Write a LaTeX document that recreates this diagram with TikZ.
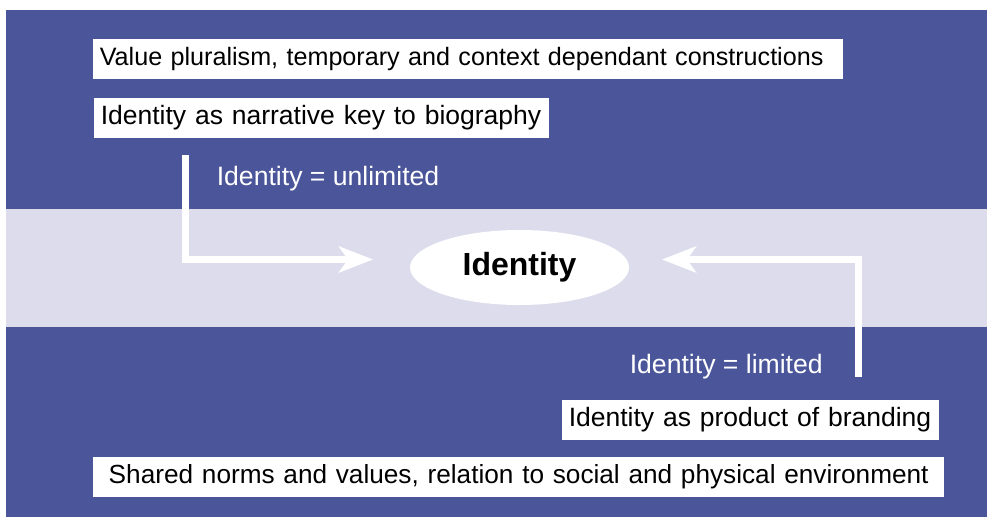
\documentclass[tikz,border=0pt]{standalone}
\usepackage{fontspec}
\setmainfont{Liberation Sans}
\usetikzlibrary{arrows.meta,shapes.geometric}
\definecolor{bandblue}{RGB}{75,85,153}
\definecolor{bandlight}{RGB}{220,220,236}
\begin{document}
\begin{tikzpicture}[x=1pt,y=-1pt,
  txtbox/.style={fill=white, inner xsep=6.6pt, inner ysep=0pt, minimum height=40pt,
    anchor=west, align=left, font=\fontsize{26.5}{30}\selectfont},
  flow/.style={white, line width=7pt, -{Stealth[length=34pt,width=26pt,inset=9pt]}},
  lbl/.style={white, inner sep=0pt, anchor=base west, font=\fontsize{26.6}{30}\selectfont}]
\useasboundingbox (0,0) rectangle (987,519);
\fill[bandblue] (6,10) rectangle (987,517);
\fill[bandlight] (6,209) rectangle (987,327);
\node[txtbox, text width=736.8pt, font=\fontsize{25.15}{30}\selectfont] (b1) at (93,59)
  {Value pluralism, temporary and context dependant constructions};
\node[txtbox, text width=441.8pt] (b2) at (94,118)
  {Identity as narrative key to biography};
\node[txtbox, text width=363.8pt] (b3) at (562,420)
  {Identity as product of branding};
\node[txtbox, text width=837.8pt, align=center, font=\fontsize{26.2}{30}\selectfont] (b4) at (93,476.5)
  {Shared norms and values, relation to social and physical environment};
\node[ellipse, fill=white, minimum width=219pt, minimum height=75pt, inner sep=0pt,
  font=\bfseries\fontsize{32}{36}\selectfont] (id) at (519.5,267.5) {Identity};
\coordinate (s1) at (185.5,155);
\coordinate (e1) at (373,259.5);
\draw[flow] (s1) |- (e1);
\coordinate (s2) at (858.5,377);
\coordinate (e2) at (662,259.5);
\draw[flow] (s2) |- (e2);
\node[lbl] (l1) at (216.6,185) {Identity = unlimited};
\node[lbl] (l2) at (629.6,373.3) {Identity = limited};
\end{tikzpicture}
\end{document}
